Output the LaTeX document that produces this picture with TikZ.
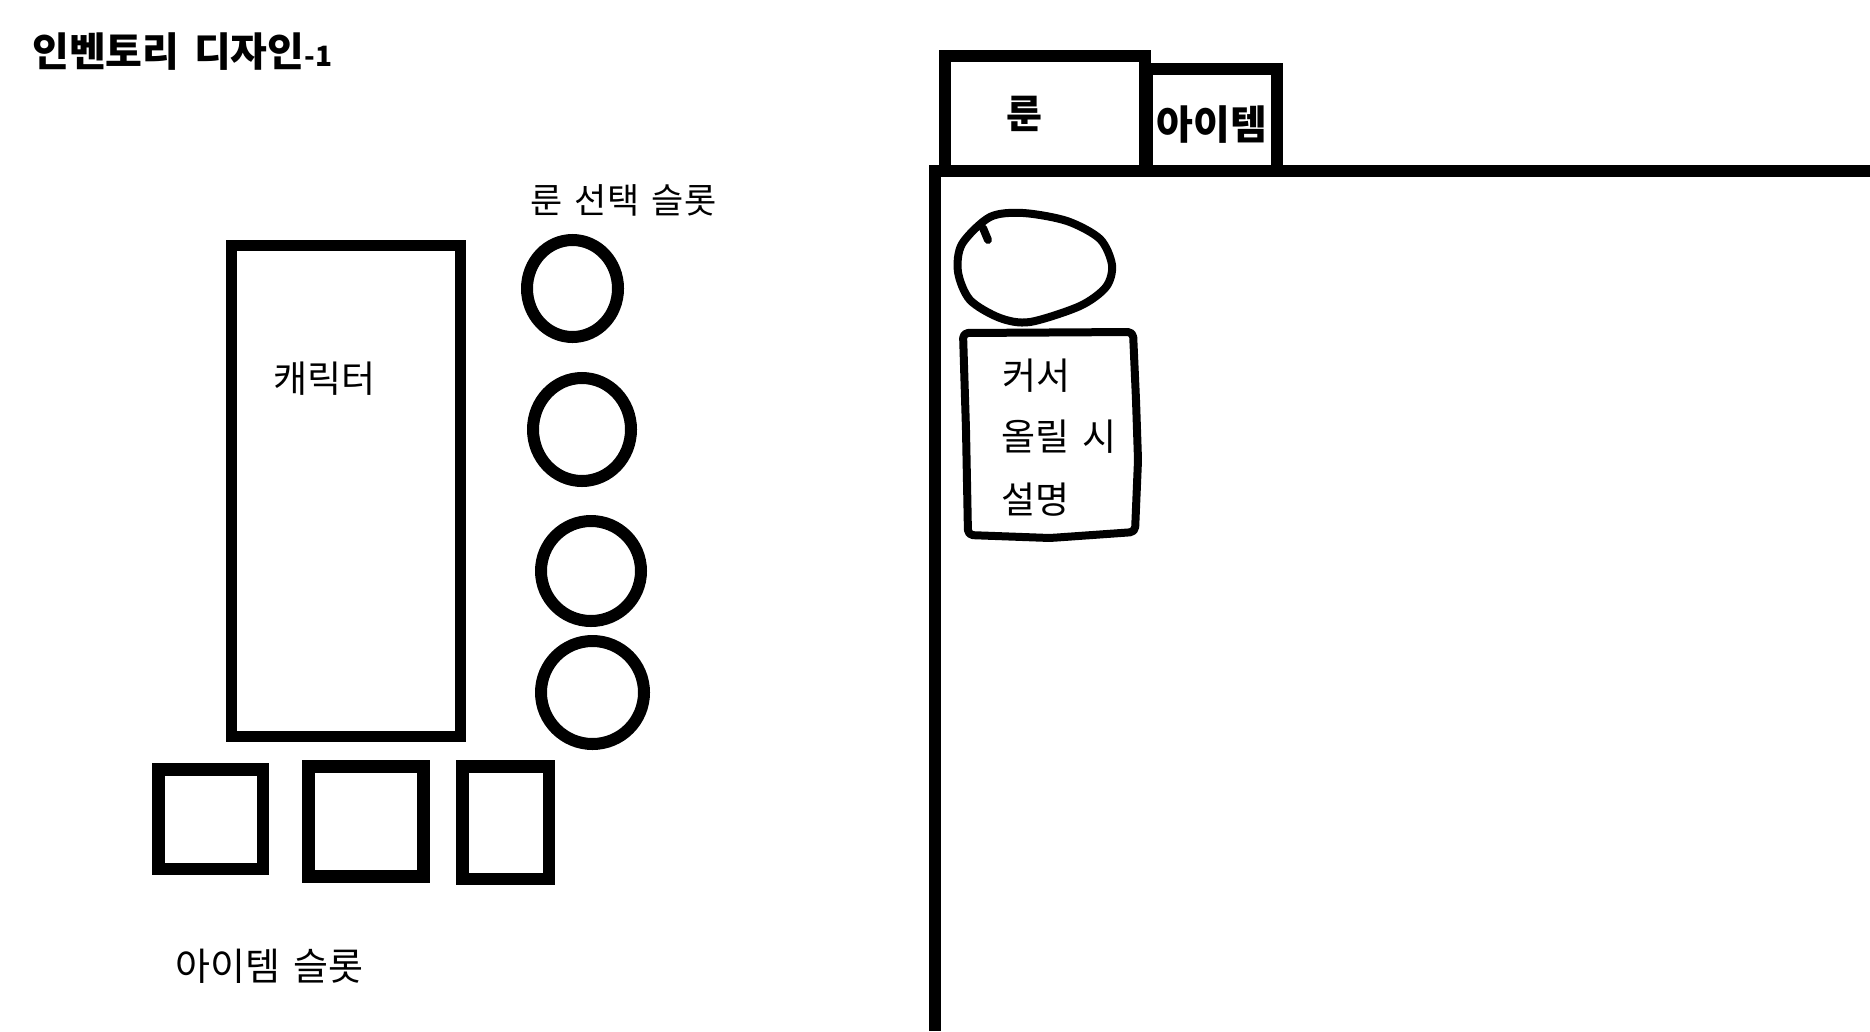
\documentclass[tikz,border=0pt]{standalone}
\usepackage{fontspec}
\setmainfont{Noto Sans CJK KR}[WordSpace=1.6]
\usetikzlibrary{shapes.geometric}

\begin{document}
\begin{tikzpicture}[x=1pt,y=-1pt,
  heavy/.style={draw,line width=12pt,inner sep=0pt},
  pen/.style={line width=8pt,line join=round,line cap=round},
  lbl/.style={inner sep=0pt,anchor=west},
  big/.style={font=\fontsize{37}{42}\selectfont}]
\useasboundingbox (0,0) rectangle (1870,1031);

% title
\node[lbl,font=\bfseries\fontsize{40}{44}\selectfont] (title) at (32,52) {인벤토리 디자인{\fontsize{28}{30}\selectfont-1}};

% character
\node[heavy,line width=11pt,minimum width=229pt,minimum height=491pt] (chr) at (346,491) {};
\node[lbl,big] (chrl) at (273,378.5) {캐릭터};

% rune slots
\node[lbl,font=\fontsize{35}{40}\selectfont] (runel) at (530,200) {룬 선택 슬롯};
\node[heavy,ellipse,minimum width=91pt,minimum height=97pt] (r1) at (572.5,288.5) {};
\node[heavy,ellipse,minimum width=98pt,minimum height=103pt] (r2) at (582,429.5) {};
\node[heavy,ellipse,minimum width=100pt,minimum height=100pt] (r3) at (591,571) {};
\node[heavy,ellipse,minimum width=103pt,minimum height=103pt] (r4) at (592.5,692.5) {};

% item slots
\node[heavy,line width=12.5pt,minimum width=104.5pt,minimum height=99.5pt] (s1) at (210.5,819) {};
\node[heavy,line width=12.5pt,minimum width=115pt,minimum height=110pt] (s2) at (366,821.5) {};
\node[heavy,line width=12.5pt,minimum width=86.5pt,minimum height=112.5pt] (s3) at (505.5,822.5) {};
\node[lbl,font=\fontsize{38}{42}\selectfont] (iteml) at (175,966) {아이템 슬롯};

% frame and tabs
\coordinate (fb) at (935,1031);
\coordinate (fc) at (935,171);
\coordinate (fr) at (1870,171);
\draw[line width=12pt] (fb) -- (fc) -- (fr);
\node[heavy,minimum width=200pt,minimum height=115pt] (tabR) at (1045,113.5) {};
\node[heavy,minimum width=130pt,minimum height=102pt] (tabI) at (1212,120) {};
\node[inner sep=0pt,font=\bfseries\fontsize{39}{42}\selectfont] (tabRl) at (1024,114) {룬};
\node[inner sep=0pt,font=\bfseries\fontsize{40}{42}\selectfont] (tabIl) at (1212,125) {아이템};

% hovered rune
\draw[pen] plot[smooth cycle] coordinates {(962,244) (990,217) (1023,213) (1067,221) (1100,239)
  (1112,265) (1106,287) (1080,306) (1030,322) (1000,318) (970,300) (958,272)};
\draw[pen] (983,228) -- (988,240);

% tooltip
\draw[pen,rounded corners=5pt] (963,333) -- (1133,332) -- (1136,400) -- (1138,460) -- (1135,532)
  -- (1050,538) -- (968,535) -- (966,430) -- cycle;
\node[lbl,big] (tip1) at (1002,376) {커서};
\node[lbl,big] (tip2) at (1001,437) {올릴 시};
\node[lbl,big] (tip3) at (1001,500) {설명};
\end{tikzpicture}
\end{document}
